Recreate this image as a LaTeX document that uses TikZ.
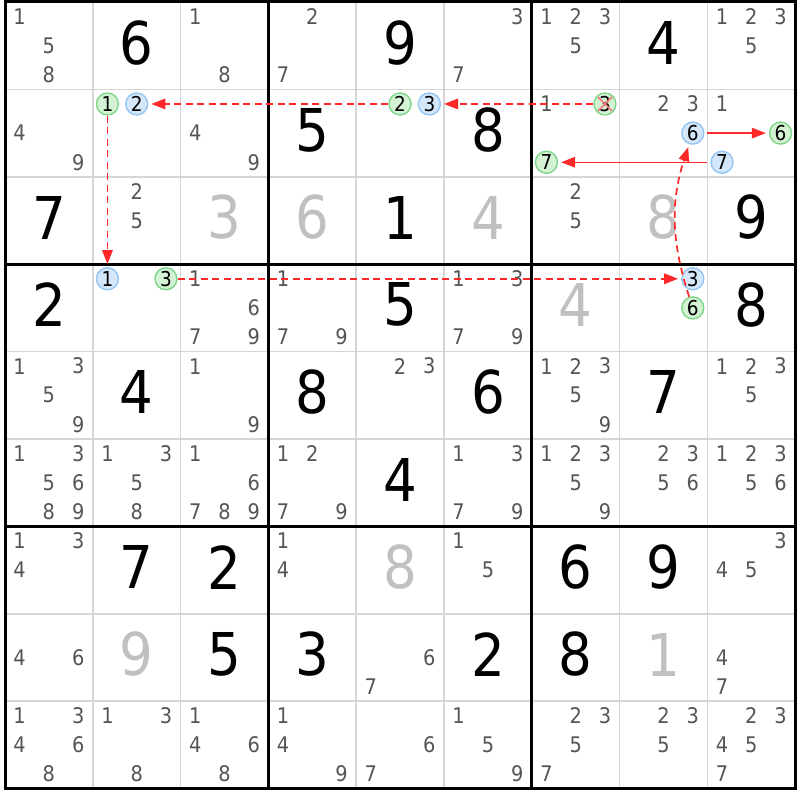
\documentclass[tikz,border=0pt]{standalone}
\usepackage{fontspec}
\setmainfont{DejaVu Sans Condensed}
\usetikzlibrary{arrows.meta}
\definecolor{candc}{HTML}{555555}
\definecolor{solvc}{HTML}{C0C0C0}
\definecolor{thinc}{HTML}{D6D6D6}
\definecolor{gfill}{HTML}{D4F2D4}
\definecolor{gline}{HTML}{7FD68A}
\definecolor{bfill}{HTML}{D4E6FA}
\definecolor{bline}{HTML}{95C5F2}
\definecolor{arrc}{HTML}{FF2828}
\definecolor{xc}{HTML}{F27A7A}
\tikzset{
 cand/.style={inner sep=0pt, text=candc, font=\fontsize{21.5}{21.5}\selectfont},
 givenbig/.style={inner sep=0pt, text=black, font=\fontsize{59}{59}\selectfont},
 solvedbig/.style={givenbig, text=solvc},
 hcg/.style={circle, draw=gline, fill=gfill, line width=1.4pt, minimum size=22pt, inner sep=0pt, text=black, font=\fontsize{20.5}{20.5}\selectfont},
 hcb/.style={hcg, draw=bline, fill=bfill},
 chain/.style={draw=arrc, line width=1.7pt, dash pattern=on 7pt off 4.5pt, -{Triangle[length=14pt,width=10.5pt,fill=arrc]}, shorten >=3pt},
 link/.style={draw=arrc, line width=1.3pt, -{Triangle[length=14pt,width=10.5pt,fill=arrc]}, shorten >=3pt, shorten <=3pt},
 gridthin/.style={draw=thinc, line width=1.5pt},
 gridthick/.style={draw=black, line width=3pt},
 xline/.style={draw=xc, line width=1.5pt},
}
\newcommand\cands[3]{\foreach \d in {#3}{\pgfmathsetmacro\px{5+(#2-1)*87.8+(mod(\d-1,3)+0.5)*29.2667}\pgfmathsetmacro\py{2+(#1-1)*87.4+(floor((\d-1)/3)+0.5)*29.1333}\node[cand] (k#1#2\d) at (\px,\py) {\d};}}
\newcommand\hc[4]{\pgfmathsetmacro\px{5+(#2-1)*87.8+(mod(#3-1,3)+0.5)*29.2667}\pgfmathsetmacro\py{2+(#1-1)*87.4+(floor((#3-1)/3)+0.5)*29.1333}\node[#4] (h#1#2#3) at (\px,\py) {#3};}
\newcommand\bigd[3]{\pgfmathsetmacro\px{5+(#2-0.5)*87.8}\pgfmathsetmacro\py{2+(#1-0.5)*87.4}\node[givenbig,yshift=3pt] (g#1#2) at (\px,\py) {#3};}
\newcommand\solvd[3]{\pgfmathsetmacro\px{5+(#2-0.5)*87.8}\pgfmathsetmacro\py{2+(#1-0.5)*87.4}\node[solvedbig,yshift=3pt] (s#1#2) at (\px,\py) {#3};}
\begin{document}
\begin{tikzpicture}[x=1pt,y=-1pt]
\useasboundingbox (0,0) rectangle (800,800);
\fill[white] (0,0) rectangle (800,800);
% grid
\foreach \i in {1,2,4,5,7,8}{
  \draw[gridthin] (5+\i*87.8,2) -- (5+\i*87.8,788.6);
  \draw[gridthin] (5,2+\i*87.4) -- (795.2,2+\i*87.4);
}
\foreach \i in {3,6}{
  \draw[gridthick] (5+\i*87.8,2) -- (5+\i*87.8,788.6);
  \draw[gridthick] (5,2+\i*87.4) -- (795.2,2+\i*87.4);
}
\draw[gridthick] (5,2) rectangle (795.2,788.6);
% row 1
\cands{1}{1}{1,5,8}
\bigd{1}{2}{6}
\cands{1}{3}{1,8}
\cands{1}{4}{2,7}
\bigd{1}{5}{9}
\cands{1}{6}{3,7}
\cands{1}{7}{1,2,3,5}
\bigd{1}{8}{4}
\cands{1}{9}{1,2,3,5}
% row 2
\cands{2}{1}{4,9}
\hc{2}{2}{1}{hcg}\hc{2}{2}{2}{hcb}
\cands{2}{3}{4,9}
\bigd{2}{4}{5}
\hc{2}{5}{2}{hcg}\hc{2}{5}{3}{hcb}
\bigd{2}{6}{8}
\cands{2}{7}{1}\hc{2}{7}{3}{hcg}\hc{2}{7}{7}{hcg}
\cands{2}{8}{2,3}\hc{2}{8}{6}{hcb}
\cands{2}{9}{1}\hc{2}{9}{6}{hcg}\hc{2}{9}{7}{hcb}
% row 3
\bigd{3}{1}{7}
\cands{3}{2}{2,5}
\solvd{3}{3}{3}
\solvd{3}{4}{6}
\bigd{3}{5}{1}
\solvd{3}{6}{4}
\cands{3}{7}{2,5}
\solvd{3}{8}{8}
\bigd{3}{9}{9}
% row 4
\bigd{4}{1}{2}
\hc{4}{2}{1}{hcb}\hc{4}{2}{3}{hcg}
\cands{4}{3}{1,6,7,9}
\cands{4}{4}{1,7,9}
\bigd{4}{5}{5}
\cands{4}{6}{1,3,7,9}
\solvd{4}{7}{4}
\hc{4}{8}{3}{hcb}\hc{4}{8}{6}{hcg}
\bigd{4}{9}{8}
% row 5
\cands{5}{1}{1,3,5,9}
\bigd{5}{2}{4}
\cands{5}{3}{1,9}
\bigd{5}{4}{8}
\cands{5}{5}{2,3}
\bigd{5}{6}{6}
\cands{5}{7}{1,2,3,5,9}
\bigd{5}{8}{7}
\cands{5}{9}{1,2,3,5}
% row 6
\cands{6}{1}{1,3,5,6,8,9}
\cands{6}{2}{1,3,5,8}
\cands{6}{3}{1,6,7,8,9}
\cands{6}{4}{1,2,7,9}
\bigd{6}{5}{4}
\cands{6}{6}{1,3,7,9}
\cands{6}{7}{1,2,3,5,9}
\cands{6}{8}{2,3,5,6}
\cands{6}{9}{1,2,3,5,6}
% row 7
\cands{7}{1}{1,3,4}
\bigd{7}{2}{7}
\bigd{7}{3}{2}
\cands{7}{4}{1,4}
\solvd{7}{5}{8}
\cands{7}{6}{1,5}
\bigd{7}{7}{6}
\bigd{7}{8}{9}
\cands{7}{9}{3,4,5}
% row 8
\cands{8}{1}{4,6}
\solvd{8}{2}{9}
\bigd{8}{3}{5}
\bigd{8}{4}{3}
\cands{8}{5}{6,7}
\bigd{8}{6}{2}
\bigd{8}{7}{8}
\solvd{8}{8}{1}
\cands{8}{9}{4,7}
% row 9
\cands{9}{1}{1,3,4,6,8}
\cands{9}{2}{1,3,8}
\cands{9}{3}{1,4,6,8}
\cands{9}{4}{1,4,9}
\cands{9}{5}{6,7}
\cands{9}{6}{1,5,9}
\cands{9}{7}{2,3,5,7}
\cands{9}{8}{2,3,5}
\cands{9}{9}{2,3,4,5,7}
% cross on eliminated candidate
\draw[xline] ([shift={(-7,-7)}]h273.center) -- ([shift={(7,7)}]h273.center);
\draw[xline] ([shift={(-7,7)}]h273.center) -- ([shift={(7,-7)}]h273.center);
% chain
\draw[chain] (h273) -- (h253);
\draw[chain] (h252) -- (h222);
\draw[chain] (h221) -- (h421);
\draw[chain] (h423) -- (h483);
\draw[chain] (h486) to[bend left=18] (h286);
\draw[link] (h286) -- (h296);
\draw[link] (h297) -- (h277);
\end{tikzpicture}
\end{document}
